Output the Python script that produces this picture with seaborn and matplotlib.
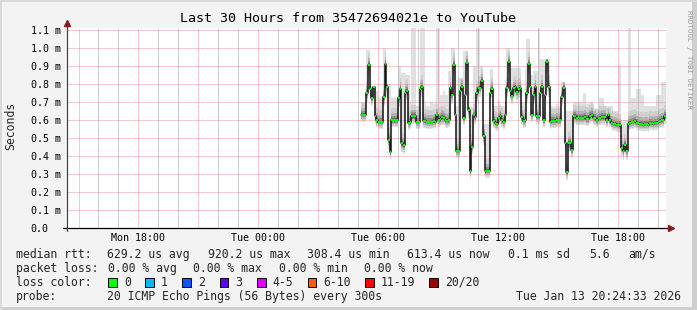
import numpy as np
import pandas as pd
import matplotlib
matplotlib.use("Agg")
import matplotlib.pyplot as plt
import seaborn as sns
from matplotlib.patches import Rectangle
from matplotlib.lines import Line2D

# ---------------- data ----------------
title = "Last 30 Hours from 35472694021e to YouTube"
start_hour = 5 + 10 / 60.0          # first sample: Tue 05:10 (hours after Tue 00:00)
step_hours = 5 / 60.0               # 300 s probe interval
x_start, x_end = -9.5908, 20.4092   # Mon 14:24:33 .. Tue 20:24:33

median_ms = [
    0.63, 0.63, 0.63, 0.75, 0.905, 0.77, 0.72, 0.785, 0.62, 0.60,
    0.59, 0.59, 0.59, 0.73, 0.91, 0.785, 0.49, 0.42, 0.60, 0.60,
    0.60, 0.60, 0.72, 0.77, 0.47, 0.46, 0.75, 0.76, 0.585, 0.59,
    0.62, 0.62, 0.62, 0.59, 0.59, 0.77, 0.785, 0.595, 0.595, 0.59,
    0.59, 0.59, 0.59, 0.595, 0.59, 0.625, 0.60, 0.605, 0.615, 0.61,
    0.60, 0.595, 0.60, 0.775, 0.74, 0.905, 0.63, 0.43, 0.43, 0.76,
    0.785, 0.61, 0.74, 0.915, 0.655, 0.315, 0.45, 0.625, 0.615, 0.75,
    0.78, 0.78, 0.815, 0.51, 0.315, 0.32, 0.32, 0.75, 0.77, 0.595,
    0.585, 0.58, 0.61, 0.62, 0.60, 0.59, 0.63, 0.775, 0.92, 0.76,
    0.735, 0.775, 0.785, 0.755, 0.77, 0.78, 0.615, 0.595, 0.60, 0.75,
    0.91, 0.785, 0.63, 0.74, 0.785, 0.62, 0.62, 0.75, 0.785, 0.60,
    0.74, 0.92, 0.785, 0.59, 0.595, 0.595, 0.595, 0.60, 0.60, 0.60,
    0.725, 0.78, 0.47, 0.31, 0.47, 0.475, 0.435, 0.62, 0.62, 0.61,
    0.615, 0.61, 0.61, 0.61, 0.615, 0.605, 0.605, 0.62, 0.63, 0.61,
    0.61, 0.60, 0.61, 0.61, 0.615, 0.615, 0.615, 0.60, 0.625, 0.60,
    0.585, 0.58, 0.58, 0.575, 0.57, 0.57, 0.445, 0.43, 0.46, 0.43,
    0.58, 0.585, 0.59, 0.59, 0.595, 0.585, 0.585, 0.58, 0.58, 0.575,
    0.58, 0.58, 0.575, 0.585, 0.585, 0.58, 0.585, 0.585, 0.59, 0.595,
    0.60, 0.60, 0.62,
]

smoke_hi_ms = [
    0.70, 0.70, 0.70, 0.99, 0.99, 0.79, 0.79, 0.79, 0.76, 0.76,
    0.72, 0.72, 0.72, 1.00, 1.00, 0.80, 0.80, 0.80, 0.72, 0.72,
    0.72, 0.72, 0.90, 0.90, 0.86, 0.86, 0.86, 0.85, 0.85, 0.70,
    1.12, 1.12, 1.12, 0.68, 0.68, 1.12, 1.12, 1.12, 0.70, 0.68,
    0.68, 0.70, 0.70, 0.69, 0.70, 1.12, 1.12, 0.74, 0.74, 0.76,
    0.74, 0.74, 0.87, 0.87, 1.00, 1.00, 0.68, 0.68, 0.83, 0.83,
    0.83, 0.98, 0.98, 0.98, 0.67, 0.67, 0.67, 0.90, 0.90, 1.12,
    1.12, 0.90, 0.90, 0.58, 0.58, 0.58, 0.58, 0.88, 0.88, 0.68,
    0.68, 0.68, 0.70, 0.69, 0.68, 0.68, 0.70, 1.00, 1.00, 0.89,
    0.89, 0.89, 0.89, 0.89, 0.89, 0.89, 0.70, 0.70, 0.88, 1.05,
    1.05, 0.85, 0.85, 0.87, 0.87, 0.87, 1.12, 0.94, 0.94, 0.94,
    0.94, 0.94, 0.94, 0.68, 0.68, 0.67, 0.68, 0.69, 0.68, 0.68,
    0.81, 0.81, 0.65, 0.65, 0.65, 0.65, 0.65, 0.70, 0.70, 0.70,
    0.70, 0.70, 0.70, 0.75, 0.75, 0.69, 0.69, 0.70, 0.70, 0.69,
    0.66, 0.66, 0.66, 0.72, 0.72, 0.72, 0.68, 0.68, 0.68, 0.68,
    0.68, 0.65, 0.65, 0.65, 0.905, 0.905, 0.60, 0.60, 0.60, 0.60,
    1.12, 1.12, 0.72, 0.72, 0.72, 0.77, 0.77, 0.77, 0.74, 0.74,
    0.68, 0.68, 0.68, 0.68, 0.68, 0.68, 0.68, 0.74, 0.74, 0.74,
    0.81, 0.81, 0.81,
]

smoke_lo_ms = [
    0.59, 0.59, 0.59, 0.70, 0.84, 0.72, 0.68, 0.73, 0.58, 0.56,
    0.55, 0.55, 0.55, 0.68, 0.84, 0.73, 0.44, 0.38, 0.56, 0.56,
    0.56, 0.56, 0.67, 0.72, 0.42, 0.41, 0.70, 0.71, 0.545, 0.55,
    0.58, 0.58, 0.58, 0.55, 0.55, 0.72, 0.73, 0.555, 0.555, 0.55,
    0.55, 0.55, 0.55, 0.555, 0.55, 0.58, 0.56, 0.565, 0.57, 0.57,
    0.56, 0.555, 0.56, 0.72, 0.69, 0.85, 0.59, 0.39, 0.39, 0.71,
    0.73, 0.57, 0.69, 0.86, 0.61, 0.28, 0.41, 0.58, 0.575, 0.70,
    0.73, 0.73, 0.76, 0.46, 0.28, 0.28, 0.28, 0.70, 0.72, 0.555,
    0.545, 0.54, 0.57, 0.58, 0.56, 0.55, 0.59, 0.72, 0.86, 0.71,
    0.69, 0.72, 0.73, 0.71, 0.72, 0.73, 0.575, 0.555, 0.56, 0.70,
    0.85, 0.73, 0.59, 0.69, 0.73, 0.58, 0.58, 0.70, 0.73, 0.56,
    0.69, 0.86, 0.73, 0.55, 0.555, 0.555, 0.555, 0.56, 0.56, 0.56,
    0.68, 0.73, 0.42, 0.27, 0.42, 0.43, 0.39, 0.58, 0.58, 0.57,
    0.575, 0.57, 0.57, 0.57, 0.575, 0.565, 0.565, 0.58, 0.59, 0.57,
    0.57, 0.56, 0.57, 0.57, 0.575, 0.575, 0.575, 0.56, 0.585, 0.56,
    0.545, 0.54, 0.54, 0.535, 0.53, 0.53, 0.40, 0.38, 0.41, 0.38,
    0.54, 0.545, 0.55, 0.55, 0.555, 0.545, 0.545, 0.54, 0.54, 0.535,
    0.54, 0.54, 0.535, 0.545, 0.545, 0.54, 0.545, 0.545, 0.55, 0.555,
    0.56, 0.56, 0.58,
]

tick_hours = [-6, 0, 6, 12, 18]
tick_labels = ["Mon 18:00", "Tue 00:00", "Tue 06:00", "Tue 12:00", "Tue 18:00"]
y_ticks = [0.0, 0.1, 0.2, 0.3, 0.4, 0.5, 0.6, 0.7, 0.8, 0.9, 1.0, 1.1]
y_tick_labels = ["0.0", "0.1 m", "0.2 m", "0.3 m", "0.4 m", "0.5 m", "0.6 m",
                 "0.7 m", "0.8 m", "0.9 m", "1.0 m", "1.1 m"]

rtt_items = ["median rtt:", "629.2 us avg", "920.2 us max", "308.4 us min",
             "613.4 us now", "0.1 ms sd", "5.6", "am/s"]
loss_items = ["packet loss:", "0.00 % avg", "0.00 % max", "0.00 % min", "0.00 % now"]
loss_labels = ["0", "1", "2", "3", "4-5", "6-10", "11-19", "20/20"]
loss_colors = ["#00ff00", "#00b8ff", "#0059ff", "#5e00ff", "#dd00ff",
               "#ff5e00", "#ff0000", "#a10000"]
probe_text = "20 ICMP Echo Pings (56 Bytes) every 300s"
stamp_text = "Tue Jan 13 20:24:33 2026"

# ---------------- figure ----------------
sns.set_theme(style="white")
plt.rcParams["font.family"] = ["DejaVu Sans Mono", "DejaVu Sans"]

W, H = 697, 310
def fx(px):
    return px / W
def fy(py):
    return 1 - py / H

fig = plt.figure(figsize=(W / 100, H / 100), dpi=100)
fig.patch.set_facecolor("#f3f3f3")

ax = fig.add_axes([fx(66.7), fy(228.3), fx(665.9) - fx(66.7), fy(27.5) - fy(228.3)])
ax.set_facecolor("white")

n = len(median_ms)
t = start_hour + np.arange(n) * step_hours
t_ext = np.append(t, t[-1] + step_hours)
med = np.array(median_ms)
hi = np.maximum(np.array(smoke_hi_ms), med)
lo = np.minimum(np.array(smoke_lo_ms), med)
def ext(a):
    return np.append(a, a[-1])

# smoke: lightest outer band, darker towards the median
ax.fill_between(t_ext, ext(lo), ext(hi), step="post", color="#e0e0e0", lw=0, zorder=1)
bands = [(0.80, 0.065, "#cecece"), (0.55, 0.038, "#b2b2b2"),
         (0.35, 0.022, "#8e8e8e"), (0.18, 0.011, "#626262")]
for frac_lo, up, col in bands:
    b_lo = med - frac_lo * (med - lo)
    b_hi = np.minimum(hi, med + up)
    ax.fill_between(t_ext, ext(b_lo), ext(b_hi), step="post", color=col, lw=0, zorder=1)

df = pd.DataFrame({"hour": t_ext, "rtt": ext(med)})
sns.lineplot(data=df, x="hour", y="rtt", ax=ax, drawstyle="steps-post",
             color="#111111", lw=1.1, errorbar=None, zorder=3)
ax.hlines(med, t, t + step_hours, color="#00ff00", lw=1.5, zorder=4)

ax.set_xlim(x_start, x_end)
ax.set_ylim(0, 1.1125)

# grid (1px dotted)
dots = (0, (1, 1))
major_x = np.arange(-9, 21, 3)
minor_x = np.arange(-9, 21, 1)
for h in minor_x:
    if h % 3 != 0:
        ax.axvline(h, color="#9e9e9e", lw=0.72, ls=dots, zorder=2)
for h in major_x:
    ax.axvline(h, color="#e69696", lw=0.72, ls=dots, zorder=2)
for v in y_ticks[1:]:
    ax.axhline(v, color="#e69696", lw=0.72, ls=dots, zorder=2)

ax.set_xticks(major_x)
ax.set_xticklabels([tick_labels[tick_hours.index(h)] if h in tick_hours else "" for h in major_x])
ax.set_yticks(y_ticks)
ax.set_yticklabels(y_tick_labels)
for lab in ax.get_yticklabels():
    lab.set_horizontalalignment("left")
ax.tick_params(axis="y", direction="out", length=2, width=0.7, color="#555555",
               pad=23.9, labelsize=7.2, labelcolor="#000000")
ax.tick_params(axis="x", direction="out", length=1.5, width=0.7, color="#e08080",
               pad=2.2, labelsize=7.2, labelcolor="#000000")
ax.set_xlabel("")
ax.set_ylabel("")
for s in ax.spines.values():
    s.set_visible(False)

# axis lines with arrow heads
ax.add_line(Line2D([-0.007, 1.004], [0, 0], transform=ax.transAxes, color="#000000",
                   lw=0.9, clip_on=False, zorder=5))
ax.add_line(Line2D([0, 0], [-0.015, 1.012], transform=ax.transAxes, color="#444444",
                   lw=0.9, clip_on=False, zorder=5))
ax.plot([1.008], [0], marker=">", ms=4.5, color="#8b1a1a", transform=ax.transAxes,
        clip_on=False, zorder=6)
ax.plot([0], [1.022], marker="^", ms=4.5, color="#8b1a1a", transform=ax.transAxes,
        clip_on=False, zorder=6)

# texts
fig.text(fx(348.5), fy(19), title, ha="center", va="center", fontsize=9.6, color="#000000")
fig.text(fx(10.5), fy(126), "Seconds", rotation=90, ha="center", va="center", fontsize=8.3)
fig.text(fx(688.5), fy(60), "RRDTOOL / TOBI OETIKER", rotation=270, ha="center",
         va="center", fontsize=5.3, color="#9a9a9a")

fs = 8.3
row_y = [254.3, 268.3, 282.3, 296.5]
rtt_x = [16, 107, 208, 307, 407, 508, 589, 628]
for txt, px in zip(rtt_items, rtt_x):
    fig.text(fx(px), fy(row_y[0]), txt, ha="left", va="center", fontsize=fs)
loss_x = [16, 107.5, 193, 279, 364.5]
for txt, px in zip(loss_items, loss_x):
    fig.text(fx(px), fy(row_y[1]), txt, ha="left", va="center", fontsize=fs)
fig.text(fx(16), fy(row_y[2]), "loss color:", ha="left", va="center", fontsize=fs)
box_x = [108, 145.3, 182.2, 219.6, 257, 307.6, 365.3, 429]
for bx, lab, col in zip(box_x, loss_labels, loss_colors):
    fig.add_artist(Rectangle((fx(bx), fy(row_y[2] + 4.3)), 8.5 / W, 8.5 / H,
                             transform=fig.transFigure, facecolor=col,
                             edgecolor="#000000", lw=0.7))
    fig.text(fx(bx + 15.8), fy(row_y[2]), lab, ha="left", va="center", fontsize=fs)
fig.text(fx(16), fy(row_y[3]), "probe:", ha="left", va="center", fontsize=fs)
fig.text(fx(107), fy(row_y[3]), probe_text, ha="left", va="center", fontsize=fs)
fig.text(fx(680.5), fy(row_y[3]), stamp_text, ha="right", va="center", fontsize=fs)

# 3-D style frame
fig.add_artist(Rectangle((fx(692), 0), 5 / W, 1, transform=fig.transFigure,
                         facecolor="#cfcfcf", lw=0))
fig.add_artist(Rectangle((0, 0), 1, 3 / H, transform=fig.transFigure,
                         facecolor="#cfcfcf", lw=0))
fig.add_artist(Rectangle((0, fy(2)), 1, 2 / H, transform=fig.transFigure,
                         facecolor="#dadada", lw=0))
fig.add_artist(Rectangle((0, 0), 2 / W, 1, transform=fig.transFigure,
                         facecolor="#dadada", lw=0))

fig.savefig("out.png", dpi=100, facecolor=fig.get_facecolor())
